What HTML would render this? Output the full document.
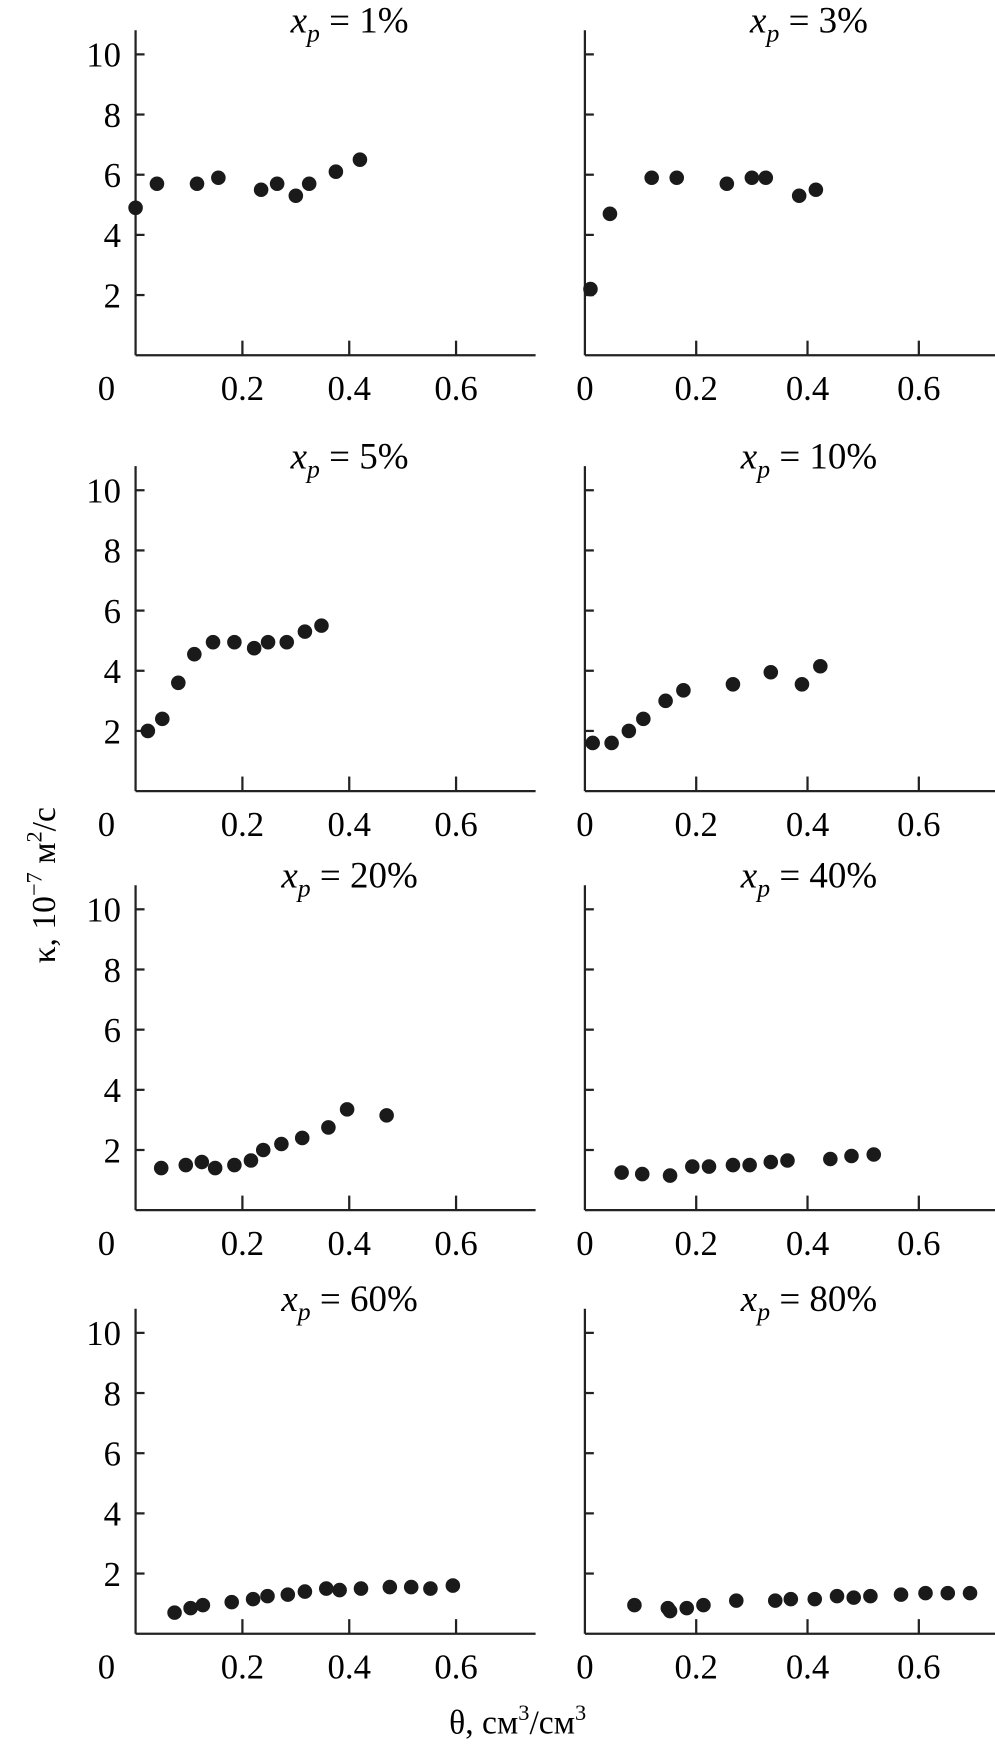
<!DOCTYPE html>
<html><head><meta charset="utf-8"><style>html,body{margin:0;padding:0;background:#fff}svg{display:block}</style></head>
<body>
<svg id="chart" width="995" height="1757" viewBox="0 0 888 1568" xmlns="http://www.w3.org/2000/svg" font-family="'Liberation Serif', serif"></svg>
<script>
const titles = ["1%","3%","5%","10%","20%","40%","60%","80%"];
const xTicks = [0.2,0.4,0.6];
const xTickLabels = ["0.2","0.4","0.6"];
const yTicks = [2,4,6,8,10];
const yTickLabels = ["2","4","6","8","10"];
const s1x=[0.0,0.04,0.115,0.155,0.235,0.265,0.3,0.325,0.375,0.42];
const s1y=[4.9,5.7,5.7,5.9,5.5,5.7,5.3,5.7,6.1,6.5];
const s2x=[0.01,0.045,0.12,0.165,0.255,0.3,0.325,0.385,0.415];
const s2y=[2.2,4.7,5.9,5.9,5.7,5.9,5.9,5.3,5.5];
const s3x=[0.023,0.05,0.08,0.11,0.145,0.185,0.222,0.248,0.283,0.317,0.348];
const s3y=[2.0,2.4,3.6,4.55,4.95,4.95,4.75,4.95,4.95,5.3,5.5];
const s4x=[0.014,0.048,0.079,0.105,0.145,0.177,0.266,0.334,0.39,0.423];
const s4y=[1.6,1.6,2.0,2.4,3.0,3.35,3.55,3.95,3.55,4.15];
const s5x=[0.048,0.094,0.124,0.149,0.185,0.216,0.239,0.273,0.312,0.361,0.396,0.47];
const s5y=[1.4,1.5,1.6,1.4,1.5,1.65,2.0,2.2,2.4,2.75,3.35,3.15];
const s6x=[0.066,0.103,0.153,0.193,0.223,0.266,0.296,0.334,0.364,0.441,0.479,0.519];
const s6y=[1.25,1.2,1.15,1.45,1.45,1.5,1.5,1.6,1.65,1.7,1.8,1.85];
const s7x=[0.073,0.103,0.126,0.18,0.22,0.247,0.285,0.317,0.357,0.382,0.422,0.476,0.516,0.552,0.594];
const s7y=[0.7,0.85,0.95,1.05,1.15,1.25,1.3,1.4,1.5,1.45,1.5,1.55,1.55,1.5,1.6];
const s8x=[0.089,0.149,0.153,0.183,0.213,0.272,0.342,0.37,0.413,0.453,0.483,0.513,0.568,0.612,0.652,0.692];
const s8y=[0.95,0.85,0.75,0.85,0.95,1.1,1.1,1.15,1.15,1.25,1.2,1.25,1.3,1.35,1.35,1.35];
const SX=[s1x,s2x,s3x,s4x,s5x,s6x,s7x,s8x], SY=[s1y,s2y,s3y,s4y,s5y,s6y,s7y,s8y];

const NS="http://www.w3.org/2000/svg", svg=document.getElementById('chart');
function mk(t,a,p){const e=document.createElementNS(NS,t);for(const k in a)e.setAttribute(k,a[k]);(p||svg).appendChild(e);return e;}
const colX=[121,522], colK=[476.7,496.7], colEnd=[478,888];
const rowY0=[317,706,1080,1458], rowK=26.85;
for(let i=0;i<8;i++){
  const c=i%2, r=Math.floor(i/2);
  const x0=colX[c], y0=rowY0[r];
  const xs=v=>x0+v*colK[c], ys=v=>y0-v*rowK;
  const g=mk('g',{});
  
  
  mk('line',{x1:x0,y1:ys(10.8),x2:x0,y2:y0,stroke:'#222','stroke-width':2},g);
  mk('line',{x1:x0,y1:y0,x2:colEnd[c],y2:y0,stroke:'#222','stroke-width':2},g);
  yTicks.forEach((v,j)=>{
    mk('line',{x1:x0,y1:ys(v),x2:x0+8,y2:ys(v),stroke:'#222','stroke-width':2},g);
    if(c===0){const t=mk('text',{x:x0-13,y:ys(v)+11,'text-anchor':'end','font-size':31},g);t.textContent=yTickLabels[j];
      }
  });
  xTicks.forEach((v,j)=>{
    mk('line',{x1:xs(v),y1:y0,x2:xs(v),y2:y0-13,stroke:'#222','stroke-width':2},g);
    const t=mk('text',{x:xs(v),y:y0+40,'text-anchor':'middle','font-size':31},g);t.textContent=xTickLabels[j];
    
  });
  const z=mk('text',{x:c?x0:x0-26,y:y0+40,'text-anchor':'middle','font-size':31},g);z.textContent='0';
  
  const tt=mk('text',{x:c?722:312,y:y0-288,'text-anchor':'middle','font-size':33},g);
  
  tt.innerHTML='<tspan font-style="italic">x</tspan><tspan font-style="italic" font-size="23" dy="8">p</tspan><tspan dy="-8"> = '+titles[i]+'</tspan>';
  SX[i].forEach((v,j)=>{
    const d=mk('circle',{cx:xs(v),cy:ys(SY[i][j]),r:6.5,fill:'#1a1a1a'},g);
    
    
  });
}
const yt=mk('text',{x:0,y:0,'text-anchor':'middle','font-size':30,transform:'translate(49,790) rotate(-90)'});

yt.innerHTML='κ, 10<tspan font-size="20" dy="-12">−7</tspan><tspan dy="12"> м</tspan><tspan font-size="20" dy="-12">2</tspan><tspan dy="12">/с</tspan>';
const xt=mk('text',{x:462,y:1547,'text-anchor':'middle','font-size':30});

xt.innerHTML='θ, см<tspan font-size="20" dy="-12">3</tspan><tspan dy="12">/см</tspan><tspan font-size="20" dy="-12">3</tspan>';
</script>
</body></html>
